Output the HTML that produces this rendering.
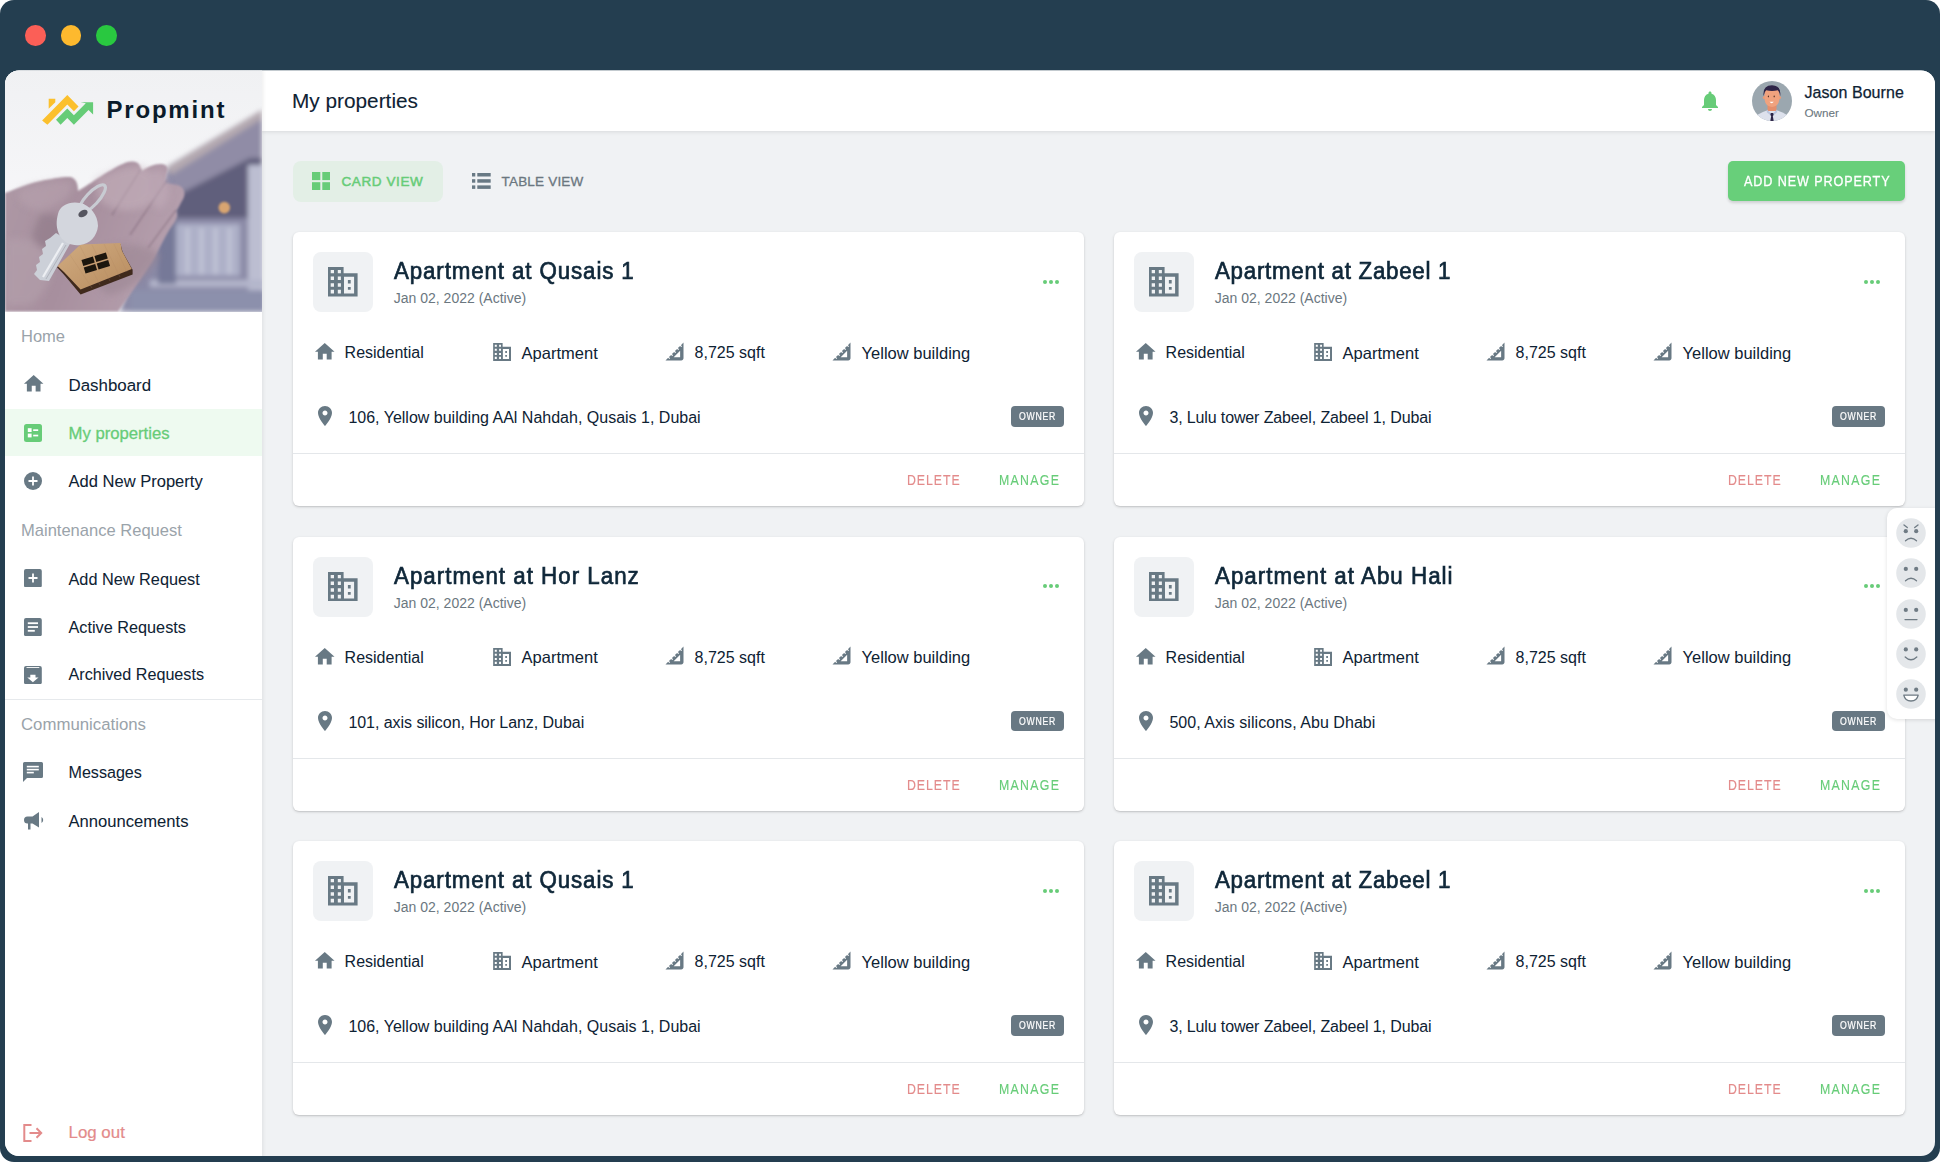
<!DOCTYPE html><html><head><meta charset="utf-8"><style>html,body{margin:0;padding:0;width:1940px;height:1162px;overflow:hidden;background:#fff;font-family:"Liberation Sans", sans-serif}</style></head><body><div style="position:absolute;left:0;top:0;width:1940px;height:1162px;background:#243e50;border-radius:14px"></div>
<div style="position:absolute;left:25.10px;top:25.2px;width:20.6px;height:20.6px;border-radius:50%;background:#fb5f57"></div>
<div style="position:absolute;left:60.60px;top:25.2px;width:20.6px;height:20.6px;border-radius:50%;background:#fdb92e"></div>
<div style="position:absolute;left:96.10px;top:25.2px;width:20.6px;height:20.6px;border-radius:50%;background:#29c840"></div>
<div id="app" style="position:absolute;left:0;top:0;width:1940px;height:1162px;background:#f0f2f4;clip-path:inset(70.5px 5px 6px 5px round 14px)">
<div style="position:absolute;left:262px;top:70px;width:1673px;height:61px;background:#fff;box-shadow:0 1px 4px rgba(0,0,0,0.10)"></div>
<div style="position:absolute;left:292px;top:91.09px;font-size:20.8px;line-height:20.8px;color:#0e2233;font-weight:400;letter-spacing:0px;white-space:nowrap;-webkit-text-stroke:0.1px #0e2233;">My properties</div>
<svg style="position:absolute;left:1698px;top:88.7px;" width="24" height="24" viewBox="0 0 24 24" fill="#67cc78"><path d="M12 22c1.1 0 2-.9 2-2h-4c0 1.1.89 2 2 2zm6-6v-5c0-3.07-1.64-5.64-4.5-6.32V4c0-.83-.67-1.5-1.5-1.5s-1.5.67-1.5 1.5v.68C7.63 5.36 6 7.92 6 11v5l-2 2v1h16v-1l-2-2z"/></svg>
<div style="position:absolute;left:1752px;top:81px;width:40px;height:40px;border-radius:50%;background:#9ba7af;overflow:hidden"><svg width="40" height="40" viewBox="0 0 40 40"><path d="M3 41 L5 34 Q10 31 15.5 29.3 L24.5 29.3 Q30 31 35 34 L37 41Z" fill="#dde1ec"/><rect x="15.5" y="21" width="9" height="9" fill="#e58f6c"/><path d="M15 28.5 L20 33.5 L25 28.5 L25.2 31.2 L20 35.5 L14.8 31.2Z" fill="#b9c4df"/><circle cx="12.4" cy="16.6" r="1.7" fill="#eb9b77"/><circle cx="27.4" cy="16.6" r="1.7" fill="#eb9b77"/><path d="M12.5 12 Q12.5 7.3 20 7.3 Q27.5 7.3 27.5 12 L27.3 19 Q26.5 25.6 20 25.9 Q13.5 25.6 12.7 19Z" fill="#f0a27e"/><path d="M11.6 15 Q10.3 4.4 20 4.2 Q29.5 4.4 28.2 15 Q27.4 10.5 25.8 9.2 Q20 10.8 14.2 9.2 Q12.4 10.5 11.6 15Z" fill="#2e2447"/><ellipse cx="16.4" cy="15.4" rx="0.6" ry="0.9" fill="#4a2a20"/><ellipse cx="22.2" cy="15.4" rx="0.6" ry="0.9" fill="#4a2a20"/><path d="M17.5 20.8 Q19.6 23.6 21.8 20.8Z" fill="#fff"/><path d="M18.8 32 L21.2 32 L21.6 34 L20.8 35 L21.9 41 L18.1 41 L19.2 35 L18.4 34Z" fill="#2b2446"/></svg></div>
<div style="position:absolute;left:1804.5px;top:85.46px;font-size:16px;line-height:16px;color:#0e2233;font-weight:400;letter-spacing:0.05px;white-space:nowrap;-webkit-text-stroke:0.25px #0e2233;">Jason Bourne</div>
<div style="position:absolute;left:1804.5px;top:106.80px;font-size:11.7px;line-height:11.7px;color:#6b7780;font-weight:400;letter-spacing:0px;white-space:nowrap;-webkit-text-stroke:0.1px #6b7780;">Owner</div>
<div style="position:absolute;left:5px;top:70px;width:257px;height:1087px;background:#fff;box-shadow:1px 0 4px rgba(0,0,0,0.08)"></div>
<svg style="position:absolute;left:5px;top:70px" width="257" height="241.5" viewBox="5 70 257 241.5">
<defs>
<linearGradient id="sky" x1="0" y1="0" x2="0" y2="1">
<stop offset="0" stop-color="#f0f1f3"/><stop offset="0.55" stop-color="#f6f6f8"/><stop offset="1" stop-color="#efeff3"/>
</linearGradient>
<linearGradient id="bld" x1="0" y1="0" x2="0" y2="1">
<stop offset="0" stop-color="#a09aaa"/><stop offset="0.3" stop-color="#83839f"/><stop offset="1" stop-color="#8c90ab"/>
</linearGradient>
<linearGradient id="handg" x1="0" y1="0" x2="1" y2="0.3">
<stop offset="0" stop-color="#ae99a6"/><stop offset="0.5" stop-color="#a78f9e"/><stop offset="1" stop-color="#b59fad"/>
</linearGradient>
<linearGradient id="wood" x1="0" y1="0" x2="1" y2="1">
<stop offset="0" stop-color="#d0ab80"/><stop offset="1" stop-color="#b88c5f"/>
</linearGradient>
<filter id="b3" x="-20%" y="-20%" width="140%" height="140%"><feGaussianBlur stdDeviation="2.5"/></filter>
<filter id="b1" x="-20%" y="-20%" width="140%" height="140%"><feGaussianBlur stdDeviation="0.9"/></filter>
<filter id="b2" x="-30%" y="-30%" width="160%" height="160%"><feGaussianBlur stdDeviation="3.5"/></filter>
<filter id="b05"><feGaussianBlur stdDeviation="0.4"/></filter>
</defs>
<rect x="5" y="70" width="257" height="241.5" fill="url(#sky)"/>
<g filter="url(#b3)">
<polygon points="262,110 168,166 120,311.5 262,311.5" fill="#8a89a6"/>
<polygon points="262,110 262,119 171,175 167,167" fill="#b4a9b0"/>
<polygon points="262,119 262,160 176,200 171,175" fill="#908ca6"/>
<polygon points="176,196 250,158 262,158 262,218 176,218" fill="#605e7c"/>
<rect x="176" y="224" width="64" height="52" fill="#adb0c8"/>
<rect x="186" y="228" width="3" height="46" fill="#c8cadb"/>
<rect x="200" y="228" width="3" height="46" fill="#c8cadb"/>
<rect x="214" y="228" width="3" height="46" fill="#c8cadb"/>
<rect x="228" y="228" width="3" height="46" fill="#c8cadb"/>
<rect x="248" y="165" width="16" height="125" fill="#bcbed1"/>
<rect x="150" y="280" width="115" height="7" fill="#b3b5cb"/>
<rect x="158" y="214" width="18" height="70" fill="#767998"/>
<rect x="130" y="290" width="135" height="22" fill="#8c90ac"/>
</g>
<circle cx="224.3" cy="207.6" r="5.8" fill="#d9a571" filter="url(#b1)"/>
<g filter="url(#b1)">
<path d="M5,193 C18,188 30,183 45,180 C56,178 64,176.5 70,177 C76,178 78,184 78,191 C90,184 112,168 126,162.5 C132,160.5 138,161 140,166 L141.5,171 C148,167 154,164 160,164 C166,164 169,167 167,172 C166,176 165,180 165,183 C170,184 176,184 180,186 C185,189 186,195 182,201 C180,205 178,208 176,211 C178,214 178,219 172,226 C166,234 160,248 152,262 C140,280 128,298 118,311.5 L5,311.5 Z" fill="url(#handg)"/>
</g>
<g filter="url(#b1)" opacity="0.5"><path d="M141,169 L112,215" stroke="#7d6576" stroke-width="1.6" fill="none"/><path d="M167,180 L130,235" stroke="#7d6576" stroke-width="1.6" fill="none"/><path d="M176,210 L148,248" stroke="#7d6576" stroke-width="1.4" fill="none"/></g>
<g filter="url(#b2)" opacity="0.55">
<path d="M95,180 C112,170 132,163 145,168 C155,172 160,190 148,205 C130,215 108,210 98,198Z" fill="#c7b3be"/><path d="M150,172 C158,168 165,170 166,176 C170,190 172,200 160,210 C150,205 148,190 150,172Z" fill="#c3aebb"/><path d="M20,190 C40,182 60,180 72,182 C75,195 60,205 40,210 C25,210 15,200 20,190Z" fill="#b8a3af"/>
<path d="M5,240 C20,235 40,240 50,255 C55,275 45,295 30,305 L5,305Z" fill="#b5a2ad"/>
<path d="M40,215 C55,210 70,220 60,240 C50,255 35,250 32,235Z" fill="#8a7684"/>
<path d="M100,250 C120,240 150,245 160,255 C150,275 130,290 110,295 C95,290 90,270 100,250Z" fill="#9a8592"/>
</g>
<g filter="url(#b05)">
<ellipse cx="92" cy="199" rx="18.5" ry="6.2" transform="rotate(-47 92 199)" fill="none" stroke="#c8cbd2" stroke-width="3.2"/>
<polygon points="57,267.2 80.6,245.7 120.5,244.1 122.6,252 132.6,269.8 132.6,274.5 80.6,294.5 63.8,274.5" fill="#3f2a1f"/>
<polygon points="57.5,266 80.6,244.6 120.5,243 122,251 131.8,269 80.6,289.5 64,272" fill="url(#wood)"/>
<g stroke="#b08760" stroke-width="0.5" opacity="0.45">
<path d="M70,255 L92,288"/><path d="M80,246 L100,285"/><path d="M92,245 L110,281"/><path d="M104,244 L120,277"/><path d="M114,244 L127,272"/>
</g>
<g transform="rotate(-17 95.8 263.2)" fill="#1c1410">
<rect x="83" y="256" width="12" height="6.2"/><rect x="96.6" y="256" width="12" height="6.2"/>
<rect x="83" y="263.8" width="12" height="6.2"/><rect x="96.6" y="263.8" width="12" height="6.2"/>
</g>
<polygon points="56,233 71,242 49,281 40,280 34,274 37,270 36,265 40,262 39,257 43,254 42,249 46,246 45,241 50,238" fill="#ccd0d8"/>
<path d="M63,243 L43,277" stroke="#eceef2" stroke-width="2.2"/>
<path d="M66,245 L46,279" stroke="#a9acb5" stroke-width="0.8"/>
<path d="M58,214 C60,205 70,201 80,203 C90,205 98,215 98,226 C97,236 90,244 80,245 C72,246 64,243 60,236 C56,229 56,221 58,214Z" fill="#d3d6dd"/>
<ellipse cx="83" cy="213.5" rx="5" ry="3.3" transform="rotate(-30 83 213.5)" fill="#55545e"/>
</g>
</svg>

<svg style="position:absolute;left:0;top:0" width="262" height="140" viewBox="0 0 262 140"><polygon points="48.7,98.8 55.3,98.8 55.3,102.2 48.7,108.8" fill="#fbc02d"/><polygon points="42.1,120.5 67.3,95 78.5,106.6 73.9,111.2 67.3,104.6 47.4,124.7" fill="#fbc02d"/><polygon points="56,119.8 67.3,108.5 73.9,115.2 85.8,103.2 80.5,102.2 93.1,102.2 93.1,114.5 88.5,109.9 73.9,124.7 67.3,118.1 60.6,124.7" fill="#66cc77"/></svg>
<div style="position:absolute;left:106.5px;top:98.18px;font-size:24px;line-height:24px;color:#0b1b2a;font-weight:700;letter-spacing:1.8px;white-space:nowrap;">Propmint</div>
<div style="position:absolute;left:21px;top:327.53px;font-size:16.5px;line-height:16.5px;color:#9aa3aa;font-weight:400;letter-spacing:0px;white-space:nowrap;">Home</div>
<div style="position:absolute;left:21px;top:522.99px;font-size:16.55px;line-height:16.55px;color:#9aa3aa;font-weight:400;letter-spacing:0px;white-space:nowrap;">Maintenance Request</div>
<div style="position:absolute;left:21px;top:716.78px;font-size:16.8px;line-height:16.8px;color:#9aa3aa;font-weight:400;letter-spacing:0px;white-space:nowrap;">Communications</div>
<div style="position:absolute;left:5px;top:408.8px;width:257px;height:47.7px;background:#eefaf0"></div>
<div style="position:absolute;left:5px;top:699px;width:257px;height:1px;background:#e6e9ec"></div>
<div style="position:absolute;left:68.5px;top:377.59px;font-size:16.9px;line-height:16.9px;color:#0e2233;font-weight:400;letter-spacing:0px;white-space:nowrap;-webkit-text-stroke:0.05px #0e2233;">Dashboard</div>
<div style="position:absolute;left:68.5px;top:425.86px;font-size:16.7px;line-height:16.7px;color:#67cc78;font-weight:400;letter-spacing:0px;white-space:nowrap;-webkit-text-stroke:0.3px #67cc78;">My properties</div>
<div style="position:absolute;left:68.5px;top:474.09px;font-size:16.55px;line-height:16.55px;color:#0e2233;font-weight:400;letter-spacing:0px;white-space:nowrap;-webkit-text-stroke:0.05px #0e2233;">Add New Property</div>
<div style="position:absolute;left:68.5px;top:571.00px;font-size:16.3px;line-height:16.3px;color:#0e2233;font-weight:400;letter-spacing:0px;white-space:nowrap;-webkit-text-stroke:0.05px #0e2233;">Add New Request</div>
<div style="position:absolute;left:68.5px;top:619.14px;font-size:16.25px;line-height:16.25px;color:#0e2233;font-weight:400;letter-spacing:0px;white-space:nowrap;-webkit-text-stroke:0.05px #0e2233;">Active Requests</div>
<div style="position:absolute;left:68.5px;top:666.33px;font-size:16.15px;line-height:16.15px;color:#0e2233;font-weight:400;letter-spacing:0px;white-space:nowrap;-webkit-text-stroke:0.05px #0e2233;">Archived Requests</div>
<div style="position:absolute;left:68.5px;top:763.67px;font-size:16.1px;line-height:16.1px;color:#0e2233;font-weight:400;letter-spacing:0px;white-space:nowrap;-webkit-text-stroke:0.05px #0e2233;">Messages</div>
<div style="position:absolute;left:68.5px;top:814.05px;font-size:16.6px;line-height:16.6px;color:#0e2233;font-weight:400;letter-spacing:0px;white-space:nowrap;-webkit-text-stroke:0.05px #0e2233;">Announcements</div>
<div style="position:absolute;left:68.5px;top:1125.29px;font-size:16.9px;line-height:16.9px;color:#e38b8b;font-weight:400;letter-spacing:0px;white-space:nowrap;-webkit-text-stroke:0.2px #e38b8b;">Log out</div>
<svg style="position:absolute;left:21.5px;top:372.3px;width:23.4px;height:23.4px" width="24" height="24" viewBox="0 0 24 24" fill="#687984"><path d="M10 20v-6h4v6h5v-8h3L12 3 2 12h3v8z"/></svg>
<svg style="position:absolute;left:24px;top:423.7px;" width="18" height="18" viewBox="0 0 18 18" fill="#67cc78"><rect width="18" height="18" rx="2.5" fill="#67cc78"/><rect x="3.8" y="4.2" width="3.8" height="3.8" fill="#fff"/><rect x="3.8" y="9.6" width="3.8" height="3.8" fill="#fff"/><rect x="9.2" y="5.3" width="5" height="1.7" fill="#fff"/><rect x="9.2" y="10.7" width="5" height="1.7" fill="#fff"/></svg>
<svg style="position:absolute;left:24px;top:472px;" width="18" height="18" viewBox="0 0 18 18" fill="#687984"><circle cx="9" cy="9" r="9"/><path d="M8.1 4.5h1.8v3.6h3.6v1.8H9.9v3.6H8.1V9.9H4.5V8.1h3.6z" fill="#fff"/></svg>
<svg style="position:absolute;left:24.2px;top:569px;" width="18" height="18" viewBox="0 0 18 18" fill="#687984"><rect width="17.8" height="18.4" rx="2"/><path d="M8.1 4.5h1.8v3.6h3.6v1.8H9.9v3.6H8.1V9.9H4.5V8.1h3.6z" fill="#fff"/></svg>
<svg style="position:absolute;left:24.2px;top:617.5px;" width="18" height="18" viewBox="0 0 18 18" fill="#687984"><rect width="17.8" height="18.3" rx="2"/><rect x="3.8" y="4.3" width="10.2" height="1.8" fill="#fff"/><rect x="3.8" y="8.1" width="10.2" height="1.8" fill="#fff"/><rect x="3.8" y="11.9" width="7" height="1.8" fill="#fff"/></svg>
<svg style="position:absolute;left:24.2px;top:665.6px;" width="18" height="18" viewBox="0 0 18 18" fill="#687984"><rect width="17.8" height="18.2" rx="2"/><rect x="2.5" y="1" width="12.8" height="0.9" fill="#fff"/><path d="M6.3 8.8h5.2v2.6h3L8.9 16.2 3.3 11.4h3z" fill="#fff"/></svg>
<svg style="position:absolute;left:23px;top:762px;" width="20" height="20" viewBox="0 0 20 20" fill="#687984"><path d="M1.5 0H18.5A1.5 1.5 0 0 1 20 1.5V14.5A1.5 1.5 0 0 1 18.5 16H4L0 20V1.5A1.5 1.5 0 0 1 1.5 0Z"/><rect x="3.8" y="3.8" width="12" height="1.6" fill="#fff"/><rect x="3.8" y="6.8" width="12" height="1.6" fill="#fff"/><rect x="3.8" y="9.8" width="7" height="1.6" fill="#fff"/></svg>
<svg style="position:absolute;left:23.9px;top:812px;" width="20" height="19" viewBox="0 0 20 19" fill="#687984"><path d="M3.5 4.5H8.5L15 0V15.5L8.5 11.5H6.5V17.5H4V11.5H3.5A3.5 3.5 0 0 1 3.5 4.5Z"/><path d="M17.5 5 A3.5 3.5 0 0 1 17.5 11Z"/></svg>
<svg style="position:absolute;left:22.7px;top:1123.5px;" width="21" height="18" viewBox="0 0 21 18" fill="#e38b8b"><path d="M8.5 1H1.3V17H8.5" fill="none" stroke="#e38b8b" stroke-width="2"/><path d="M6.5 9H18 M13.5 4.3L18.2 9L13.5 13.7" fill="none" stroke="#e38b8b" stroke-width="2"/></svg>
<div style="position:absolute;left:292.6px;top:161px;width:150px;height:40.6px;border-radius:8px;background:#e3efe6"></div>
<svg style="position:absolute;left:311.6px;top:172px;" width="18.6" height="18.3" viewBox="0 0 18.6 18.3" fill="#67cc78"><rect x="0" y="0" width="8.3" height="8.1"/><rect x="10.3" y="0" width="8.3" height="8.1"/><rect x="0" y="10.2" width="8.3" height="8.1"/><rect x="10.3" y="10.2" width="8.3" height="8.1"/></svg>
<div style="position:absolute;left:341.5px;top:175.07px;font-size:13.5px;line-height:13.5px;color:#67cc78;font-weight:400;letter-spacing:0.6px;white-space:nowrap;-webkit-text-stroke:0.5px #67cc78;">CARD VIEW</div>
<svg style="position:absolute;left:472.3px;top:173.3px;" width="18.7" height="15.9" viewBox="0 0 18.7 15.9" fill="#687984"><rect x="0" y="0" width="3.3" height="3.5"/><rect x="0" y="6.2" width="3.3" height="3.5"/><rect x="0" y="12.4" width="3.3" height="3.5"/><rect x="5.3" y="0" width="13.4" height="3.5"/><rect x="5.3" y="6.2" width="13.4" height="3.5"/><rect x="5.3" y="12.4" width="13.4" height="3.5"/></svg>
<div style="position:absolute;left:501.5px;top:175.07px;font-size:13.5px;line-height:13.5px;color:#6b7780;font-weight:400;letter-spacing:0.2px;white-space:nowrap;-webkit-text-stroke:0.3px #6b7780;">TABLE VIEW</div>
<div style="position:absolute;left:1728px;top:161px;width:177px;height:40px;border-radius:5px;background:#68cf7a;box-shadow:0 2px 3px rgba(0,0,0,0.14)"></div>
<div style="position:absolute;left:1744px;top:174.45px;font-size:14px;line-height:14px;color:#fff;font-weight:400;letter-spacing:1.0px;white-space:nowrap;transform:scaleX(0.9);transform-origin:0 0;-webkit-text-stroke:0.3px #fff;">ADD NEW PROPERTY</div>
<div style="position:absolute;left:292.6px;top:232px;width:791.4px;height:274px;background:#fff;border-radius:6px;box-shadow:0 1px 3px rgba(0,0,0,0.16),0 1px 1px rgba(0,0,0,0.06)"></div>
<div style="position:absolute;left:313.20000000000005px;top:252px;width:60px;height:60px;border-radius:8px;background:#f0f2f4"></div>
<svg style="position:absolute;left:328.20000000000005px;top:267.2px;" width="29.6" height="29.6" viewBox="0 0 29.6 29.6" fill="#687984"><path fill-rule="evenodd" d="M0 0H15.6V6.2H29.6V29.6H0ZM2.7 2.9H6V6.3H2.7Z M9.8 2.9H12.9V6.3H9.8Z M2.7 9.6H6V12.9H2.7Z M9.8 9.6H12.9V12.9H9.8ZM2.7 16.3H6V19.8H2.7Z M9.8 16.3H12.9V19.8H9.8Z M2.7 22.8H6V26.5H2.7Z M9.8 22.8H12.9V26.5H9.8ZM16 9.8H26.1V26.5H16Z"/><path d="M19.9 13H22.7V16.5H19.9Z M19.9 19.9H22.7V22.8H19.9Z"/></svg>
<div style="position:absolute;left:393.8px;top:260.11px;font-size:23.5px;line-height:23.5px;color:#0f2739;font-weight:400;letter-spacing:0.93px;white-space:nowrap;transform:scaleX(0.95);transform-origin:0 0;-webkit-text-stroke:0.7px #0f2739;">Apartment at Qusais 1</div>
<div style="position:absolute;left:393.8px;top:291.45px;font-size:14px;line-height:14px;color:#6b7780;font-weight:400;letter-spacing:0px;white-space:nowrap;">Jan 02, 2022 (Active)</div>
<div style="position:absolute;left:1042.7px;top:279.7px;width:4px;height:4px;border-radius:50%;background:#67cc78"></div>
<div style="position:absolute;left:1048.9px;top:279.7px;width:4px;height:4px;border-radius:50%;background:#67cc78"></div>
<div style="position:absolute;left:1055.1000000000001px;top:279.7px;width:4px;height:4px;border-radius:50%;background:#67cc78"></div>
<svg style="position:absolute;left:313.20000000000005px;top:340.2px;" width="23.5" height="23.5" viewBox="0 0 24 24" fill="#687984"><path d="M10 20v-6h4v6h5v-8h3L12 3 2 12h3v8z"/></svg>
<div style="position:absolute;left:344.6px;top:345.26px;font-size:16px;line-height:16px;color:#0e2233;font-weight:400;letter-spacing:0px;white-space:nowrap;">Residential</div>
<svg style="position:absolute;left:492.6px;top:343px;" width="18.3" height="18" viewBox="0 0 29.6 29.6" fill="#687984"><path fill-rule="evenodd" d="M0 0H15.6V6.2H29.6V29.6H0ZM2.7 2.9H6V6.3H2.7Z M9.8 2.9H12.9V6.3H9.8Z M2.7 9.6H6V12.9H2.7Z M9.8 9.6H12.9V12.9H9.8ZM2.7 16.3H6V19.8H2.7Z M9.8 16.3H12.9V19.8H9.8Z M2.7 22.8H6V26.5H2.7Z M9.8 22.8H12.9V26.5H9.8ZM16 9.8H26.1V26.5H16Z"/><path d="M19.9 13H22.7V16.5H19.9Z M19.9 19.9H22.7V22.8H19.9Z"/></svg>
<div style="position:absolute;left:521.6px;top:344.83px;font-size:16.5px;line-height:16.5px;color:#0e2233;font-weight:400;letter-spacing:0px;white-space:nowrap;">Apartment</div>
<svg style="position:absolute;left:660.9375px;top:337.7px;" width="27" height="27" viewBox="0 0 24 24" fill="#687984"><g transform="translate(24 0) scale(-1 1)"><path d="M17.66 17.66l-1.06 1.06-.71-.71 1.06-1.06-1.94-1.94-1.06 1.06-.71-.71 1.06-1.06-1.94-1.94-1.06 1.06-.71-.71 1.06-1.06L9.7 9.7l-1.06 1.06-.71-.71 1.06-1.06-1.94-1.94-1.06 1.06-.71-.71 1.06-1.06L4 4v14c0 1.1.9 2 2 2h14l-2.34-2.34zM7 17v-5.76L12.76 17H7z"/></g></svg>
<div style="position:absolute;left:694.6px;top:345.26px;font-size:16px;line-height:16px;color:#0e2233;font-weight:400;letter-spacing:0px;white-space:nowrap;">8,725 sqft</div>
<svg style="position:absolute;left:827.5375px;top:337.7px;" width="27" height="27" viewBox="0 0 24 24" fill="#687984"><g transform="translate(24 0) scale(-1 1)"><path d="M17.66 17.66l-1.06 1.06-.71-.71 1.06-1.06-1.94-1.94-1.06 1.06-.71-.71 1.06-1.06-1.94-1.94-1.06 1.06-.71-.71 1.06-1.06L9.7 9.7l-1.06 1.06-.71-.71 1.06-1.06-1.94-1.94-1.06 1.06-.71-.71 1.06-1.06L4 4v14c0 1.1.9 2 2 2h14l-2.34-2.34zM7 17v-5.76L12.76 17H7z"/></g></svg>
<div style="position:absolute;left:861.6px;top:344.83px;font-size:16.5px;line-height:16.5px;color:#0e2233;font-weight:400;letter-spacing:0px;white-space:nowrap;">Yellow building</div>
<svg style="position:absolute;left:313.0px;top:404.3px;" width="24" height="24" viewBox="0 0 24 24" fill="#687984"><path d="M12 2C8.13 2 5 5.13 5 9c0 5.25 7 13 7 13s7-7.75 7-13c0-3.87-3.13-7-7-7zm0 9.5c-1.38 0-2.5-1.12-2.5-2.5s1.12-2.5 2.5-2.5 2.5 1.12 2.5 2.5-1.12 2.5-2.5 2.5z"/></svg>
<div style="position:absolute;left:348.40000000000003px;top:410.46px;font-size:16px;line-height:16px;color:#0e2233;font-weight:400;letter-spacing:0px;white-space:nowrap;">106, Yellow building AAl Nahdah, Qusais 1, Dubai</div>
<div style="position:absolute;left:1011.0px;top:406.2px;width:53px;height:20.5px;border-radius:4px;background:#687883"></div>
<div style="position:absolute;left:1019.2px;top:412.35px;font-size:10.1px;line-height:10.1px;color:#fff;font-weight:400;letter-spacing:0.85px;white-space:nowrap;transform:scaleX(0.86);transform-origin:0 0;-webkit-text-stroke:0.2px #fff;">OWNER</div>
<div style="position:absolute;left:292.6px;top:453px;width:791.4px;height:1px;background:#e4e7ea"></div>
<div style="position:absolute;left:907.3000000000001px;top:473.45px;font-size:14px;line-height:14px;color:#e38b8b;font-weight:400;letter-spacing:1.1px;white-space:nowrap;transform:scaleX(0.88);transform-origin:0 0;-webkit-text-stroke:0.15px #e38b8b;">DELETE</div>
<div style="position:absolute;left:999.4px;top:473.45px;font-size:14px;line-height:14px;color:#67cc78;font-weight:400;letter-spacing:1.5px;white-space:nowrap;transform:scaleX(0.88);transform-origin:0 0;-webkit-text-stroke:0.15px #67cc78;">MANAGE</div>
<div style="position:absolute;left:1113.6px;top:232px;width:791.4px;height:274px;background:#fff;border-radius:6px;box-shadow:0 1px 3px rgba(0,0,0,0.16),0 1px 1px rgba(0,0,0,0.06)"></div>
<div style="position:absolute;left:1134.1999999999998px;top:252px;width:60px;height:60px;border-radius:8px;background:#f0f2f4"></div>
<svg style="position:absolute;left:1149.1999999999998px;top:267.2px;" width="29.6" height="29.6" viewBox="0 0 29.6 29.6" fill="#687984"><path fill-rule="evenodd" d="M0 0H15.6V6.2H29.6V29.6H0ZM2.7 2.9H6V6.3H2.7Z M9.8 2.9H12.9V6.3H9.8Z M2.7 9.6H6V12.9H2.7Z M9.8 9.6H12.9V12.9H9.8ZM2.7 16.3H6V19.8H2.7Z M9.8 16.3H12.9V19.8H9.8Z M2.7 22.8H6V26.5H2.7Z M9.8 22.8H12.9V26.5H9.8ZM16 9.8H26.1V26.5H16Z"/><path d="M19.9 13H22.7V16.5H19.9Z M19.9 19.9H22.7V22.8H19.9Z"/></svg>
<div style="position:absolute;left:1214.8px;top:260.11px;font-size:23.5px;line-height:23.5px;color:#0f2739;font-weight:400;letter-spacing:0.77px;white-space:nowrap;transform:scaleX(0.95);transform-origin:0 0;-webkit-text-stroke:0.7px #0f2739;">Apartment at Zabeel 1</div>
<div style="position:absolute;left:1214.8px;top:291.45px;font-size:14px;line-height:14px;color:#6b7780;font-weight:400;letter-spacing:0px;white-space:nowrap;">Jan 02, 2022 (Active)</div>
<div style="position:absolute;left:1863.6999999999998px;top:279.7px;width:4px;height:4px;border-radius:50%;background:#67cc78"></div>
<div style="position:absolute;left:1869.8999999999999px;top:279.7px;width:4px;height:4px;border-radius:50%;background:#67cc78"></div>
<div style="position:absolute;left:1876.1px;top:279.7px;width:4px;height:4px;border-radius:50%;background:#67cc78"></div>
<svg style="position:absolute;left:1134.1999999999998px;top:340.2px;" width="23.5" height="23.5" viewBox="0 0 24 24" fill="#687984"><path d="M10 20v-6h4v6h5v-8h3L12 3 2 12h3v8z"/></svg>
<div style="position:absolute;left:1165.6px;top:345.26px;font-size:16px;line-height:16px;color:#0e2233;font-weight:400;letter-spacing:0px;white-space:nowrap;">Residential</div>
<svg style="position:absolute;left:1313.6px;top:343px;" width="18.3" height="18" viewBox="0 0 29.6 29.6" fill="#687984"><path fill-rule="evenodd" d="M0 0H15.6V6.2H29.6V29.6H0ZM2.7 2.9H6V6.3H2.7Z M9.8 2.9H12.9V6.3H9.8Z M2.7 9.6H6V12.9H2.7Z M9.8 9.6H12.9V12.9H9.8ZM2.7 16.3H6V19.8H2.7Z M9.8 16.3H12.9V19.8H9.8Z M2.7 22.8H6V26.5H2.7Z M9.8 22.8H12.9V26.5H9.8ZM16 9.8H26.1V26.5H16Z"/><path d="M19.9 13H22.7V16.5H19.9Z M19.9 19.9H22.7V22.8H19.9Z"/></svg>
<div style="position:absolute;left:1342.6px;top:344.83px;font-size:16.5px;line-height:16.5px;color:#0e2233;font-weight:400;letter-spacing:0px;white-space:nowrap;">Apartment</div>
<svg style="position:absolute;left:1481.9375px;top:337.7px;" width="27" height="27" viewBox="0 0 24 24" fill="#687984"><g transform="translate(24 0) scale(-1 1)"><path d="M17.66 17.66l-1.06 1.06-.71-.71 1.06-1.06-1.94-1.94-1.06 1.06-.71-.71 1.06-1.06-1.94-1.94-1.06 1.06-.71-.71 1.06-1.06L9.7 9.7l-1.06 1.06-.71-.71 1.06-1.06-1.94-1.94-1.06 1.06-.71-.71 1.06-1.06L4 4v14c0 1.1.9 2 2 2h14l-2.34-2.34zM7 17v-5.76L12.76 17H7z"/></g></svg>
<div style="position:absolute;left:1515.6px;top:345.26px;font-size:16px;line-height:16px;color:#0e2233;font-weight:400;letter-spacing:0px;white-space:nowrap;">8,725 sqft</div>
<svg style="position:absolute;left:1648.5375px;top:337.7px;" width="27" height="27" viewBox="0 0 24 24" fill="#687984"><g transform="translate(24 0) scale(-1 1)"><path d="M17.66 17.66l-1.06 1.06-.71-.71 1.06-1.06-1.94-1.94-1.06 1.06-.71-.71 1.06-1.06-1.94-1.94-1.06 1.06-.71-.71 1.06-1.06L9.7 9.7l-1.06 1.06-.71-.71 1.06-1.06-1.94-1.94-1.06 1.06-.71-.71 1.06-1.06L4 4v14c0 1.1.9 2 2 2h14l-2.34-2.34zM7 17v-5.76L12.76 17H7z"/></g></svg>
<div style="position:absolute;left:1682.6px;top:344.83px;font-size:16.5px;line-height:16.5px;color:#0e2233;font-weight:400;letter-spacing:0px;white-space:nowrap;">Yellow building</div>
<svg style="position:absolute;left:1134.0px;top:404.3px;" width="24" height="24" viewBox="0 0 24 24" fill="#687984"><path d="M12 2C8.13 2 5 5.13 5 9c0 5.25 7 13 7 13s7-7.75 7-13c0-3.87-3.13-7-7-7zm0 9.5c-1.38 0-2.5-1.12-2.5-2.5s1.12-2.5 2.5-2.5 2.5 1.12 2.5 2.5-1.12 2.5-2.5 2.5z"/></svg>
<div style="position:absolute;left:1169.3999999999999px;top:410.46px;font-size:16px;line-height:16px;color:#0e2233;font-weight:400;letter-spacing:-0.13px;white-space:nowrap;">3, Lulu tower Zabeel, Zabeel 1, Dubai</div>
<div style="position:absolute;left:1832.0px;top:406.2px;width:53px;height:20.5px;border-radius:4px;background:#687883"></div>
<div style="position:absolute;left:1840.1999999999998px;top:412.35px;font-size:10.1px;line-height:10.1px;color:#fff;font-weight:400;letter-spacing:0.85px;white-space:nowrap;transform:scaleX(0.86);transform-origin:0 0;-webkit-text-stroke:0.2px #fff;">OWNER</div>
<div style="position:absolute;left:1113.6px;top:453px;width:791.4px;height:1px;background:#e4e7ea"></div>
<div style="position:absolute;left:1728.3px;top:473.45px;font-size:14px;line-height:14px;color:#e38b8b;font-weight:400;letter-spacing:1.1px;white-space:nowrap;transform:scaleX(0.88);transform-origin:0 0;-webkit-text-stroke:0.15px #e38b8b;">DELETE</div>
<div style="position:absolute;left:1820.3999999999999px;top:473.45px;font-size:14px;line-height:14px;color:#67cc78;font-weight:400;letter-spacing:1.5px;white-space:nowrap;transform:scaleX(0.88);transform-origin:0 0;-webkit-text-stroke:0.15px #67cc78;">MANAGE</div>
<div style="position:absolute;left:292.6px;top:536.5px;width:791.4px;height:274px;background:#fff;border-radius:6px;box-shadow:0 1px 3px rgba(0,0,0,0.16),0 1px 1px rgba(0,0,0,0.06)"></div>
<div style="position:absolute;left:313.20000000000005px;top:556.5px;width:60px;height:60px;border-radius:8px;background:#f0f2f4"></div>
<svg style="position:absolute;left:328.20000000000005px;top:571.7px;" width="29.6" height="29.6" viewBox="0 0 29.6 29.6" fill="#687984"><path fill-rule="evenodd" d="M0 0H15.6V6.2H29.6V29.6H0ZM2.7 2.9H6V6.3H2.7Z M9.8 2.9H12.9V6.3H9.8Z M2.7 9.6H6V12.9H2.7Z M9.8 9.6H12.9V12.9H9.8ZM2.7 16.3H6V19.8H2.7Z M9.8 16.3H12.9V19.8H9.8Z M2.7 22.8H6V26.5H2.7Z M9.8 22.8H12.9V26.5H9.8ZM16 9.8H26.1V26.5H16Z"/><path d="M19.9 13H22.7V16.5H19.9Z M19.9 19.9H22.7V22.8H19.9Z"/></svg>
<div style="position:absolute;left:393.8px;top:564.61px;font-size:23.5px;line-height:23.5px;color:#0f2739;font-weight:400;letter-spacing:1.06px;white-space:nowrap;transform:scaleX(0.95);transform-origin:0 0;-webkit-text-stroke:0.7px #0f2739;">Apartment at Hor Lanz</div>
<div style="position:absolute;left:393.8px;top:595.95px;font-size:14px;line-height:14px;color:#6b7780;font-weight:400;letter-spacing:0px;white-space:nowrap;">Jan 02, 2022 (Active)</div>
<div style="position:absolute;left:1042.7px;top:584.2px;width:4px;height:4px;border-radius:50%;background:#67cc78"></div>
<div style="position:absolute;left:1048.9px;top:584.2px;width:4px;height:4px;border-radius:50%;background:#67cc78"></div>
<div style="position:absolute;left:1055.1000000000001px;top:584.2px;width:4px;height:4px;border-radius:50%;background:#67cc78"></div>
<svg style="position:absolute;left:313.20000000000005px;top:644.7px;" width="23.5" height="23.5" viewBox="0 0 24 24" fill="#687984"><path d="M10 20v-6h4v6h5v-8h3L12 3 2 12h3v8z"/></svg>
<div style="position:absolute;left:344.6px;top:649.76px;font-size:16px;line-height:16px;color:#0e2233;font-weight:400;letter-spacing:0px;white-space:nowrap;">Residential</div>
<svg style="position:absolute;left:492.6px;top:647.5px;" width="18.3" height="18" viewBox="0 0 29.6 29.6" fill="#687984"><path fill-rule="evenodd" d="M0 0H15.6V6.2H29.6V29.6H0ZM2.7 2.9H6V6.3H2.7Z M9.8 2.9H12.9V6.3H9.8Z M2.7 9.6H6V12.9H2.7Z M9.8 9.6H12.9V12.9H9.8ZM2.7 16.3H6V19.8H2.7Z M9.8 16.3H12.9V19.8H9.8Z M2.7 22.8H6V26.5H2.7Z M9.8 22.8H12.9V26.5H9.8ZM16 9.8H26.1V26.5H16Z"/><path d="M19.9 13H22.7V16.5H19.9Z M19.9 19.9H22.7V22.8H19.9Z"/></svg>
<div style="position:absolute;left:521.6px;top:649.33px;font-size:16.5px;line-height:16.5px;color:#0e2233;font-weight:400;letter-spacing:0px;white-space:nowrap;">Apartment</div>
<svg style="position:absolute;left:660.9375px;top:642.2px;" width="27" height="27" viewBox="0 0 24 24" fill="#687984"><g transform="translate(24 0) scale(-1 1)"><path d="M17.66 17.66l-1.06 1.06-.71-.71 1.06-1.06-1.94-1.94-1.06 1.06-.71-.71 1.06-1.06-1.94-1.94-1.06 1.06-.71-.71 1.06-1.06L9.7 9.7l-1.06 1.06-.71-.71 1.06-1.06-1.94-1.94-1.06 1.06-.71-.71 1.06-1.06L4 4v14c0 1.1.9 2 2 2h14l-2.34-2.34zM7 17v-5.76L12.76 17H7z"/></g></svg>
<div style="position:absolute;left:694.6px;top:649.76px;font-size:16px;line-height:16px;color:#0e2233;font-weight:400;letter-spacing:0px;white-space:nowrap;">8,725 sqft</div>
<svg style="position:absolute;left:827.5375px;top:642.2px;" width="27" height="27" viewBox="0 0 24 24" fill="#687984"><g transform="translate(24 0) scale(-1 1)"><path d="M17.66 17.66l-1.06 1.06-.71-.71 1.06-1.06-1.94-1.94-1.06 1.06-.71-.71 1.06-1.06-1.94-1.94-1.06 1.06-.71-.71 1.06-1.06L9.7 9.7l-1.06 1.06-.71-.71 1.06-1.06-1.94-1.94-1.06 1.06-.71-.71 1.06-1.06L4 4v14c0 1.1.9 2 2 2h14l-2.34-2.34zM7 17v-5.76L12.76 17H7z"/></g></svg>
<div style="position:absolute;left:861.6px;top:649.33px;font-size:16.5px;line-height:16.5px;color:#0e2233;font-weight:400;letter-spacing:0px;white-space:nowrap;">Yellow building</div>
<svg style="position:absolute;left:313.0px;top:708.8px;" width="24" height="24" viewBox="0 0 24 24" fill="#687984"><path d="M12 2C8.13 2 5 5.13 5 9c0 5.25 7 13 7 13s7-7.75 7-13c0-3.87-3.13-7-7-7zm0 9.5c-1.38 0-2.5-1.12-2.5-2.5s1.12-2.5 2.5-2.5 2.5 1.12 2.5 2.5-1.12 2.5-2.5 2.5z"/></svg>
<div style="position:absolute;left:348.40000000000003px;top:714.96px;font-size:16px;line-height:16px;color:#0e2233;font-weight:400;letter-spacing:-0.05px;white-space:nowrap;">101, axis silicon, Hor Lanz, Dubai</div>
<div style="position:absolute;left:1011.0px;top:710.7px;width:53px;height:20.5px;border-radius:4px;background:#687883"></div>
<div style="position:absolute;left:1019.2px;top:716.85px;font-size:10.1px;line-height:10.1px;color:#fff;font-weight:400;letter-spacing:0.85px;white-space:nowrap;transform:scaleX(0.86);transform-origin:0 0;-webkit-text-stroke:0.2px #fff;">OWNER</div>
<div style="position:absolute;left:292.6px;top:757.5px;width:791.4px;height:1px;background:#e4e7ea"></div>
<div style="position:absolute;left:907.3000000000001px;top:777.95px;font-size:14px;line-height:14px;color:#e38b8b;font-weight:400;letter-spacing:1.1px;white-space:nowrap;transform:scaleX(0.88);transform-origin:0 0;-webkit-text-stroke:0.15px #e38b8b;">DELETE</div>
<div style="position:absolute;left:999.4px;top:777.95px;font-size:14px;line-height:14px;color:#67cc78;font-weight:400;letter-spacing:1.5px;white-space:nowrap;transform:scaleX(0.88);transform-origin:0 0;-webkit-text-stroke:0.15px #67cc78;">MANAGE</div>
<div style="position:absolute;left:1113.6px;top:536.5px;width:791.4px;height:274px;background:#fff;border-radius:6px;box-shadow:0 1px 3px rgba(0,0,0,0.16),0 1px 1px rgba(0,0,0,0.06)"></div>
<div style="position:absolute;left:1134.1999999999998px;top:556.5px;width:60px;height:60px;border-radius:8px;background:#f0f2f4"></div>
<svg style="position:absolute;left:1149.1999999999998px;top:571.7px;" width="29.6" height="29.6" viewBox="0 0 29.6 29.6" fill="#687984"><path fill-rule="evenodd" d="M0 0H15.6V6.2H29.6V29.6H0ZM2.7 2.9H6V6.3H2.7Z M9.8 2.9H12.9V6.3H9.8Z M2.7 9.6H6V12.9H2.7Z M9.8 9.6H12.9V12.9H9.8ZM2.7 16.3H6V19.8H2.7Z M9.8 16.3H12.9V19.8H9.8Z M2.7 22.8H6V26.5H2.7Z M9.8 22.8H12.9V26.5H9.8ZM16 9.8H26.1V26.5H16Z"/><path d="M19.9 13H22.7V16.5H19.9Z M19.9 19.9H22.7V22.8H19.9Z"/></svg>
<div style="position:absolute;left:1214.8px;top:564.61px;font-size:23.5px;line-height:23.5px;color:#0f2739;font-weight:400;letter-spacing:1.07px;white-space:nowrap;transform:scaleX(0.95);transform-origin:0 0;-webkit-text-stroke:0.7px #0f2739;">Apartment at Abu Hali</div>
<div style="position:absolute;left:1214.8px;top:595.95px;font-size:14px;line-height:14px;color:#6b7780;font-weight:400;letter-spacing:0px;white-space:nowrap;">Jan 02, 2022 (Active)</div>
<div style="position:absolute;left:1863.6999999999998px;top:584.2px;width:4px;height:4px;border-radius:50%;background:#67cc78"></div>
<div style="position:absolute;left:1869.8999999999999px;top:584.2px;width:4px;height:4px;border-radius:50%;background:#67cc78"></div>
<div style="position:absolute;left:1876.1px;top:584.2px;width:4px;height:4px;border-radius:50%;background:#67cc78"></div>
<svg style="position:absolute;left:1134.1999999999998px;top:644.7px;" width="23.5" height="23.5" viewBox="0 0 24 24" fill="#687984"><path d="M10 20v-6h4v6h5v-8h3L12 3 2 12h3v8z"/></svg>
<div style="position:absolute;left:1165.6px;top:649.76px;font-size:16px;line-height:16px;color:#0e2233;font-weight:400;letter-spacing:0px;white-space:nowrap;">Residential</div>
<svg style="position:absolute;left:1313.6px;top:647.5px;" width="18.3" height="18" viewBox="0 0 29.6 29.6" fill="#687984"><path fill-rule="evenodd" d="M0 0H15.6V6.2H29.6V29.6H0ZM2.7 2.9H6V6.3H2.7Z M9.8 2.9H12.9V6.3H9.8Z M2.7 9.6H6V12.9H2.7Z M9.8 9.6H12.9V12.9H9.8ZM2.7 16.3H6V19.8H2.7Z M9.8 16.3H12.9V19.8H9.8Z M2.7 22.8H6V26.5H2.7Z M9.8 22.8H12.9V26.5H9.8ZM16 9.8H26.1V26.5H16Z"/><path d="M19.9 13H22.7V16.5H19.9Z M19.9 19.9H22.7V22.8H19.9Z"/></svg>
<div style="position:absolute;left:1342.6px;top:649.33px;font-size:16.5px;line-height:16.5px;color:#0e2233;font-weight:400;letter-spacing:0px;white-space:nowrap;">Apartment</div>
<svg style="position:absolute;left:1481.9375px;top:642.2px;" width="27" height="27" viewBox="0 0 24 24" fill="#687984"><g transform="translate(24 0) scale(-1 1)"><path d="M17.66 17.66l-1.06 1.06-.71-.71 1.06-1.06-1.94-1.94-1.06 1.06-.71-.71 1.06-1.06-1.94-1.94-1.06 1.06-.71-.71 1.06-1.06L9.7 9.7l-1.06 1.06-.71-.71 1.06-1.06-1.94-1.94-1.06 1.06-.71-.71 1.06-1.06L4 4v14c0 1.1.9 2 2 2h14l-2.34-2.34zM7 17v-5.76L12.76 17H7z"/></g></svg>
<div style="position:absolute;left:1515.6px;top:649.76px;font-size:16px;line-height:16px;color:#0e2233;font-weight:400;letter-spacing:0px;white-space:nowrap;">8,725 sqft</div>
<svg style="position:absolute;left:1648.5375px;top:642.2px;" width="27" height="27" viewBox="0 0 24 24" fill="#687984"><g transform="translate(24 0) scale(-1 1)"><path d="M17.66 17.66l-1.06 1.06-.71-.71 1.06-1.06-1.94-1.94-1.06 1.06-.71-.71 1.06-1.06-1.94-1.94-1.06 1.06-.71-.71 1.06-1.06L9.7 9.7l-1.06 1.06-.71-.71 1.06-1.06-1.94-1.94-1.06 1.06-.71-.71 1.06-1.06L4 4v14c0 1.1.9 2 2 2h14l-2.34-2.34zM7 17v-5.76L12.76 17H7z"/></g></svg>
<div style="position:absolute;left:1682.6px;top:649.33px;font-size:16.5px;line-height:16.5px;color:#0e2233;font-weight:400;letter-spacing:0px;white-space:nowrap;">Yellow building</div>
<svg style="position:absolute;left:1134.0px;top:708.8px;" width="24" height="24" viewBox="0 0 24 24" fill="#687984"><path d="M12 2C8.13 2 5 5.13 5 9c0 5.25 7 13 7 13s7-7.75 7-13c0-3.87-3.13-7-7-7zm0 9.5c-1.38 0-2.5-1.12-2.5-2.5s1.12-2.5 2.5-2.5 2.5 1.12 2.5 2.5-1.12 2.5-2.5 2.5z"/></svg>
<div style="position:absolute;left:1169.3999999999999px;top:714.96px;font-size:16px;line-height:16px;color:#0e2233;font-weight:400;letter-spacing:0.05px;white-space:nowrap;">500, Axis silicons, Abu Dhabi</div>
<div style="position:absolute;left:1832.0px;top:710.7px;width:53px;height:20.5px;border-radius:4px;background:#687883"></div>
<div style="position:absolute;left:1840.1999999999998px;top:716.85px;font-size:10.1px;line-height:10.1px;color:#fff;font-weight:400;letter-spacing:0.85px;white-space:nowrap;transform:scaleX(0.86);transform-origin:0 0;-webkit-text-stroke:0.2px #fff;">OWNER</div>
<div style="position:absolute;left:1113.6px;top:757.5px;width:791.4px;height:1px;background:#e4e7ea"></div>
<div style="position:absolute;left:1728.3px;top:777.95px;font-size:14px;line-height:14px;color:#e38b8b;font-weight:400;letter-spacing:1.1px;white-space:nowrap;transform:scaleX(0.88);transform-origin:0 0;-webkit-text-stroke:0.15px #e38b8b;">DELETE</div>
<div style="position:absolute;left:1820.3999999999999px;top:777.95px;font-size:14px;line-height:14px;color:#67cc78;font-weight:400;letter-spacing:1.5px;white-space:nowrap;transform:scaleX(0.88);transform-origin:0 0;-webkit-text-stroke:0.15px #67cc78;">MANAGE</div>
<div style="position:absolute;left:292.6px;top:840.8px;width:791.4px;height:274px;background:#fff;border-radius:6px;box-shadow:0 1px 3px rgba(0,0,0,0.16),0 1px 1px rgba(0,0,0,0.06)"></div>
<div style="position:absolute;left:313.20000000000005px;top:860.8px;width:60px;height:60px;border-radius:8px;background:#f0f2f4"></div>
<svg style="position:absolute;left:328.20000000000005px;top:876.0px;" width="29.6" height="29.6" viewBox="0 0 29.6 29.6" fill="#687984"><path fill-rule="evenodd" d="M0 0H15.6V6.2H29.6V29.6H0ZM2.7 2.9H6V6.3H2.7Z M9.8 2.9H12.9V6.3H9.8Z M2.7 9.6H6V12.9H2.7Z M9.8 9.6H12.9V12.9H9.8ZM2.7 16.3H6V19.8H2.7Z M9.8 16.3H12.9V19.8H9.8Z M2.7 22.8H6V26.5H2.7Z M9.8 22.8H12.9V26.5H9.8ZM16 9.8H26.1V26.5H16Z"/><path d="M19.9 13H22.7V16.5H19.9Z M19.9 19.9H22.7V22.8H19.9Z"/></svg>
<div style="position:absolute;left:393.8px;top:868.91px;font-size:23.5px;line-height:23.5px;color:#0f2739;font-weight:400;letter-spacing:0.93px;white-space:nowrap;transform:scaleX(0.95);transform-origin:0 0;-webkit-text-stroke:0.7px #0f2739;">Apartment at Qusais 1</div>
<div style="position:absolute;left:393.8px;top:900.25px;font-size:14px;line-height:14px;color:#6b7780;font-weight:400;letter-spacing:0px;white-space:nowrap;">Jan 02, 2022 (Active)</div>
<div style="position:absolute;left:1042.7px;top:888.5px;width:4px;height:4px;border-radius:50%;background:#67cc78"></div>
<div style="position:absolute;left:1048.9px;top:888.5px;width:4px;height:4px;border-radius:50%;background:#67cc78"></div>
<div style="position:absolute;left:1055.1000000000001px;top:888.5px;width:4px;height:4px;border-radius:50%;background:#67cc78"></div>
<svg style="position:absolute;left:313.20000000000005px;top:949.0px;" width="23.5" height="23.5" viewBox="0 0 24 24" fill="#687984"><path d="M10 20v-6h4v6h5v-8h3L12 3 2 12h3v8z"/></svg>
<div style="position:absolute;left:344.6px;top:954.06px;font-size:16px;line-height:16px;color:#0e2233;font-weight:400;letter-spacing:0px;white-space:nowrap;">Residential</div>
<svg style="position:absolute;left:492.6px;top:951.8px;" width="18.3" height="18" viewBox="0 0 29.6 29.6" fill="#687984"><path fill-rule="evenodd" d="M0 0H15.6V6.2H29.6V29.6H0ZM2.7 2.9H6V6.3H2.7Z M9.8 2.9H12.9V6.3H9.8Z M2.7 9.6H6V12.9H2.7Z M9.8 9.6H12.9V12.9H9.8ZM2.7 16.3H6V19.8H2.7Z M9.8 16.3H12.9V19.8H9.8Z M2.7 22.8H6V26.5H2.7Z M9.8 22.8H12.9V26.5H9.8ZM16 9.8H26.1V26.5H16Z"/><path d="M19.9 13H22.7V16.5H19.9Z M19.9 19.9H22.7V22.8H19.9Z"/></svg>
<div style="position:absolute;left:521.6px;top:953.63px;font-size:16.5px;line-height:16.5px;color:#0e2233;font-weight:400;letter-spacing:0px;white-space:nowrap;">Apartment</div>
<svg style="position:absolute;left:660.9375px;top:946.5px;" width="27" height="27" viewBox="0 0 24 24" fill="#687984"><g transform="translate(24 0) scale(-1 1)"><path d="M17.66 17.66l-1.06 1.06-.71-.71 1.06-1.06-1.94-1.94-1.06 1.06-.71-.71 1.06-1.06-1.94-1.94-1.06 1.06-.71-.71 1.06-1.06L9.7 9.7l-1.06 1.06-.71-.71 1.06-1.06-1.94-1.94-1.06 1.06-.71-.71 1.06-1.06L4 4v14c0 1.1.9 2 2 2h14l-2.34-2.34zM7 17v-5.76L12.76 17H7z"/></g></svg>
<div style="position:absolute;left:694.6px;top:954.06px;font-size:16px;line-height:16px;color:#0e2233;font-weight:400;letter-spacing:0px;white-space:nowrap;">8,725 sqft</div>
<svg style="position:absolute;left:827.5375px;top:946.5px;" width="27" height="27" viewBox="0 0 24 24" fill="#687984"><g transform="translate(24 0) scale(-1 1)"><path d="M17.66 17.66l-1.06 1.06-.71-.71 1.06-1.06-1.94-1.94-1.06 1.06-.71-.71 1.06-1.06-1.94-1.94-1.06 1.06-.71-.71 1.06-1.06L9.7 9.7l-1.06 1.06-.71-.71 1.06-1.06-1.94-1.94-1.06 1.06-.71-.71 1.06-1.06L4 4v14c0 1.1.9 2 2 2h14l-2.34-2.34zM7 17v-5.76L12.76 17H7z"/></g></svg>
<div style="position:absolute;left:861.6px;top:953.63px;font-size:16.5px;line-height:16.5px;color:#0e2233;font-weight:400;letter-spacing:0px;white-space:nowrap;">Yellow building</div>
<svg style="position:absolute;left:313.0px;top:1013.0999999999999px;" width="24" height="24" viewBox="0 0 24 24" fill="#687984"><path d="M12 2C8.13 2 5 5.13 5 9c0 5.25 7 13 7 13s7-7.75 7-13c0-3.87-3.13-7-7-7zm0 9.5c-1.38 0-2.5-1.12-2.5-2.5s1.12-2.5 2.5-2.5 2.5 1.12 2.5 2.5-1.12 2.5-2.5 2.5z"/></svg>
<div style="position:absolute;left:348.40000000000003px;top:1019.26px;font-size:16px;line-height:16px;color:#0e2233;font-weight:400;letter-spacing:0px;white-space:nowrap;">106, Yellow building AAl Nahdah, Qusais 1, Dubai</div>
<div style="position:absolute;left:1011.0px;top:1015.0px;width:53px;height:20.5px;border-radius:4px;background:#687883"></div>
<div style="position:absolute;left:1019.2px;top:1021.15px;font-size:10.1px;line-height:10.1px;color:#fff;font-weight:400;letter-spacing:0.85px;white-space:nowrap;transform:scaleX(0.86);transform-origin:0 0;-webkit-text-stroke:0.2px #fff;">OWNER</div>
<div style="position:absolute;left:292.6px;top:1061.8px;width:791.4px;height:1px;background:#e4e7ea"></div>
<div style="position:absolute;left:907.3000000000001px;top:1082.25px;font-size:14px;line-height:14px;color:#e38b8b;font-weight:400;letter-spacing:1.1px;white-space:nowrap;transform:scaleX(0.88);transform-origin:0 0;-webkit-text-stroke:0.15px #e38b8b;">DELETE</div>
<div style="position:absolute;left:999.4px;top:1082.25px;font-size:14px;line-height:14px;color:#67cc78;font-weight:400;letter-spacing:1.5px;white-space:nowrap;transform:scaleX(0.88);transform-origin:0 0;-webkit-text-stroke:0.15px #67cc78;">MANAGE</div>
<div style="position:absolute;left:1113.6px;top:840.8px;width:791.4px;height:274px;background:#fff;border-radius:6px;box-shadow:0 1px 3px rgba(0,0,0,0.16),0 1px 1px rgba(0,0,0,0.06)"></div>
<div style="position:absolute;left:1134.1999999999998px;top:860.8px;width:60px;height:60px;border-radius:8px;background:#f0f2f4"></div>
<svg style="position:absolute;left:1149.1999999999998px;top:876.0px;" width="29.6" height="29.6" viewBox="0 0 29.6 29.6" fill="#687984"><path fill-rule="evenodd" d="M0 0H15.6V6.2H29.6V29.6H0ZM2.7 2.9H6V6.3H2.7Z M9.8 2.9H12.9V6.3H9.8Z M2.7 9.6H6V12.9H2.7Z M9.8 9.6H12.9V12.9H9.8ZM2.7 16.3H6V19.8H2.7Z M9.8 16.3H12.9V19.8H9.8Z M2.7 22.8H6V26.5H2.7Z M9.8 22.8H12.9V26.5H9.8ZM16 9.8H26.1V26.5H16Z"/><path d="M19.9 13H22.7V16.5H19.9Z M19.9 19.9H22.7V22.8H19.9Z"/></svg>
<div style="position:absolute;left:1214.8px;top:868.91px;font-size:23.5px;line-height:23.5px;color:#0f2739;font-weight:400;letter-spacing:0.77px;white-space:nowrap;transform:scaleX(0.95);transform-origin:0 0;-webkit-text-stroke:0.7px #0f2739;">Apartment at Zabeel 1</div>
<div style="position:absolute;left:1214.8px;top:900.25px;font-size:14px;line-height:14px;color:#6b7780;font-weight:400;letter-spacing:0px;white-space:nowrap;">Jan 02, 2022 (Active)</div>
<div style="position:absolute;left:1863.6999999999998px;top:888.5px;width:4px;height:4px;border-radius:50%;background:#67cc78"></div>
<div style="position:absolute;left:1869.8999999999999px;top:888.5px;width:4px;height:4px;border-radius:50%;background:#67cc78"></div>
<div style="position:absolute;left:1876.1px;top:888.5px;width:4px;height:4px;border-radius:50%;background:#67cc78"></div>
<svg style="position:absolute;left:1134.1999999999998px;top:949.0px;" width="23.5" height="23.5" viewBox="0 0 24 24" fill="#687984"><path d="M10 20v-6h4v6h5v-8h3L12 3 2 12h3v8z"/></svg>
<div style="position:absolute;left:1165.6px;top:954.06px;font-size:16px;line-height:16px;color:#0e2233;font-weight:400;letter-spacing:0px;white-space:nowrap;">Residential</div>
<svg style="position:absolute;left:1313.6px;top:951.8px;" width="18.3" height="18" viewBox="0 0 29.6 29.6" fill="#687984"><path fill-rule="evenodd" d="M0 0H15.6V6.2H29.6V29.6H0ZM2.7 2.9H6V6.3H2.7Z M9.8 2.9H12.9V6.3H9.8Z M2.7 9.6H6V12.9H2.7Z M9.8 9.6H12.9V12.9H9.8ZM2.7 16.3H6V19.8H2.7Z M9.8 16.3H12.9V19.8H9.8Z M2.7 22.8H6V26.5H2.7Z M9.8 22.8H12.9V26.5H9.8ZM16 9.8H26.1V26.5H16Z"/><path d="M19.9 13H22.7V16.5H19.9Z M19.9 19.9H22.7V22.8H19.9Z"/></svg>
<div style="position:absolute;left:1342.6px;top:953.63px;font-size:16.5px;line-height:16.5px;color:#0e2233;font-weight:400;letter-spacing:0px;white-space:nowrap;">Apartment</div>
<svg style="position:absolute;left:1481.9375px;top:946.5px;" width="27" height="27" viewBox="0 0 24 24" fill="#687984"><g transform="translate(24 0) scale(-1 1)"><path d="M17.66 17.66l-1.06 1.06-.71-.71 1.06-1.06-1.94-1.94-1.06 1.06-.71-.71 1.06-1.06-1.94-1.94-1.06 1.06-.71-.71 1.06-1.06L9.7 9.7l-1.06 1.06-.71-.71 1.06-1.06-1.94-1.94-1.06 1.06-.71-.71 1.06-1.06L4 4v14c0 1.1.9 2 2 2h14l-2.34-2.34zM7 17v-5.76L12.76 17H7z"/></g></svg>
<div style="position:absolute;left:1515.6px;top:954.06px;font-size:16px;line-height:16px;color:#0e2233;font-weight:400;letter-spacing:0px;white-space:nowrap;">8,725 sqft</div>
<svg style="position:absolute;left:1648.5375px;top:946.5px;" width="27" height="27" viewBox="0 0 24 24" fill="#687984"><g transform="translate(24 0) scale(-1 1)"><path d="M17.66 17.66l-1.06 1.06-.71-.71 1.06-1.06-1.94-1.94-1.06 1.06-.71-.71 1.06-1.06-1.94-1.94-1.06 1.06-.71-.71 1.06-1.06L9.7 9.7l-1.06 1.06-.71-.71 1.06-1.06-1.94-1.94-1.06 1.06-.71-.71 1.06-1.06L4 4v14c0 1.1.9 2 2 2h14l-2.34-2.34zM7 17v-5.76L12.76 17H7z"/></g></svg>
<div style="position:absolute;left:1682.6px;top:953.63px;font-size:16.5px;line-height:16.5px;color:#0e2233;font-weight:400;letter-spacing:0px;white-space:nowrap;">Yellow building</div>
<svg style="position:absolute;left:1134.0px;top:1013.0999999999999px;" width="24" height="24" viewBox="0 0 24 24" fill="#687984"><path d="M12 2C8.13 2 5 5.13 5 9c0 5.25 7 13 7 13s7-7.75 7-13c0-3.87-3.13-7-7-7zm0 9.5c-1.38 0-2.5-1.12-2.5-2.5s1.12-2.5 2.5-2.5 2.5 1.12 2.5 2.5-1.12 2.5-2.5 2.5z"/></svg>
<div style="position:absolute;left:1169.3999999999999px;top:1019.26px;font-size:16px;line-height:16px;color:#0e2233;font-weight:400;letter-spacing:-0.13px;white-space:nowrap;">3, Lulu tower Zabeel, Zabeel 1, Dubai</div>
<div style="position:absolute;left:1832.0px;top:1015.0px;width:53px;height:20.5px;border-radius:4px;background:#687883"></div>
<div style="position:absolute;left:1840.1999999999998px;top:1021.15px;font-size:10.1px;line-height:10.1px;color:#fff;font-weight:400;letter-spacing:0.85px;white-space:nowrap;transform:scaleX(0.86);transform-origin:0 0;-webkit-text-stroke:0.2px #fff;">OWNER</div>
<div style="position:absolute;left:1113.6px;top:1061.8px;width:791.4px;height:1px;background:#e4e7ea"></div>
<div style="position:absolute;left:1728.3px;top:1082.25px;font-size:14px;line-height:14px;color:#e38b8b;font-weight:400;letter-spacing:1.1px;white-space:nowrap;transform:scaleX(0.88);transform-origin:0 0;-webkit-text-stroke:0.15px #e38b8b;">DELETE</div>
<div style="position:absolute;left:1820.3999999999999px;top:1082.25px;font-size:14px;line-height:14px;color:#67cc78;font-weight:400;letter-spacing:1.5px;white-space:nowrap;transform:scaleX(0.88);transform-origin:0 0;-webkit-text-stroke:0.15px #67cc78;">MANAGE</div>
<div style="position:absolute;left:1887px;top:508px;width:60px;height:211px;border-radius:10px;background:#fff;box-shadow:0 1px 4px rgba(0,0,0,0.12)"></div>
<svg style="position:absolute;left:1896px;top:518.0px;" width="30" height="30" viewBox="0 0 30 30" fill="#687984"><circle cx="15" cy="15" r="14.8" fill="#e4e7ea"/><circle cx="9.8" cy="13.2" r="2.1" fill="#6f7b84"/><circle cx="20.2" cy="13.2" r="2.1" fill="#6f7b84"/><path d="M8 7L11.3 9.6 M22 7L18.7 9.6" fill="none" stroke="#6f7b84" stroke-width="1.3" stroke-linecap="round"/><path d="M9.5 22.8Q15 17.8 20.5 22.8" fill="none" stroke="#6f7b84" stroke-width="1.3" stroke-linecap="round"/></svg>
<svg style="position:absolute;left:1896px;top:558.25px;" width="30" height="30" viewBox="0 0 30 30" fill="#687984"><circle cx="15" cy="15" r="14.8" fill="#e4e7ea"/><circle cx="9.8" cy="10.9" r="2.1" fill="#6f7b84"/><circle cx="20.2" cy="10.9" r="2.1" fill="#6f7b84"/><path d="M9.5 22.8Q15 17.8 20.5 22.8" fill="none" stroke="#6f7b84" stroke-width="1.3" stroke-linecap="round"/></svg>
<svg style="position:absolute;left:1896px;top:598.5px;" width="30" height="30" viewBox="0 0 30 30" fill="#687984"><circle cx="15" cy="15" r="14.8" fill="#e4e7ea"/><circle cx="9.8" cy="10.9" r="2.1" fill="#6f7b84"/><circle cx="20.2" cy="10.9" r="2.1" fill="#6f7b84"/><path d="M9 20.6H21" fill="none" stroke="#6f7b84" stroke-width="1.3" stroke-linecap="round"/></svg>
<svg style="position:absolute;left:1896px;top:638.75px;" width="30" height="30" viewBox="0 0 30 30" fill="#687984"><circle cx="15" cy="15" r="14.8" fill="#e4e7ea"/><circle cx="9.8" cy="10.4" r="2.1" fill="#6f7b84"/><circle cx="20.2" cy="10.4" r="2.1" fill="#6f7b84"/><path d="M9.2 18Q15 23.6 20.8 18" fill="none" stroke="#6f7b84" stroke-width="1.3" stroke-linecap="round"/></svg>
<svg style="position:absolute;left:1896px;top:679.0px;" width="30" height="30" viewBox="0 0 30 30" fill="#687984"><circle cx="15" cy="15" r="14.8" fill="#e4e7ea"/><circle cx="9.8" cy="10.7" r="2.1" fill="#6f7b84"/><circle cx="20.2" cy="10.7" r="2.1" fill="#6f7b84"/><path d="M7.8 16.2H22.2Q21 22 15 22Q9 22 7.8 16.2Z" fill="#fff" stroke="#6f7b84" stroke-width="1.3" stroke-linejoin="round"/></svg>
</div></body></html>
